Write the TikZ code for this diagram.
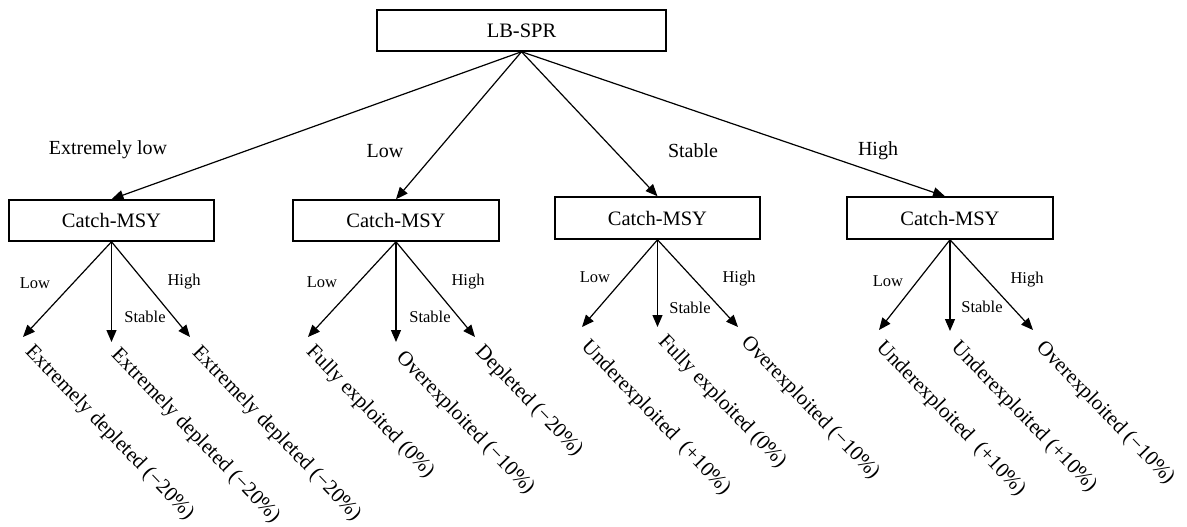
\documentclass[tikz,border=0pt]{standalone}
\usepackage{fontspec}
\setmainfont{Liberation Serif}
\usetikzlibrary{arrows.meta}
\begin{document}
\begin{tikzpicture}[x=1pt,y=-1pt,
  box/.style={draw, line width=1.5pt, minimum height=41pt, inner sep=0pt, font=\fontsize{20.5}{24}\selectfont},
  arr/.style={line width=1.2pt, -{Triangle[length=12pt,width=10pt]}},
  lab/.style={inner sep=0pt, font=\fontsize{20}{24}\selectfont},
  small/.style={inner sep=0pt, font=\fontsize{16.5}{20}\selectfont},
  leaf/.style={anchor=north west, rotate=-46, inner sep=0pt, font=\fontsize{21}{24}\selectfont}]
\useasboundingbox (0,0) rectangle (1187,527);

% boxes
\node[box, minimum width=289pt] (root) at (521.5,30.5) {LB-SPR};
\node[box, minimum width=205pt] (c1) at (111.5,220.5) {Catch-MSY};
\node[box, minimum width=206pt] (c2) at (396,220.5) {Catch-MSY};
\node[box, minimum width=205pt, minimum height=42pt] (c3) at (657.5,218) {Catch-MSY};
\node[box, minimum width=206pt, minimum height=42pt] (c4) at (950,218) {Catch-MSY};

% top labels
\node[lab] (t1) at (108,150) {Extremely low};
\node[lab] (t2) at (385,151) {Low};
\node[lab] (t3) at (693,151) {Stable};
\node[lab] (t4) at (878,151) {High};

% top arrows
\draw[arr] (root.south) -- (c1.north);
\draw[arr] (root.south) -- (c2.north);
\draw[arr] (root.south) -- (c3.north);
\draw[arr] (root.south) -- ([xshift=-5pt]c4.north);

% arrow tips
\coordinate (a1) at (23,337);  \coordinate (a2) at (112,342); \coordinate (a3) at (190,337);
\coordinate (b1) at (308,337); \coordinate (b2) at (397,342); \coordinate (b3) at (475,337);
\coordinate (d1) at (582,327); \coordinate (d2) at (659,327); \coordinate (d3) at (738,327);
\coordinate (e1) at (879,330); \coordinate (e2) at (950,331); \coordinate (e3) at (1033,330);

\foreach \b/\p in {c1/a, c2/b, c3/d, c4/e}{
  \draw[arr] (\b.south) -- (\p1);
  \draw[arr] (\b.south) -- (\b.south |- \p2);
  \draw[arr] (\b.south) -- (\p3);
}

% small labels
\node[small] (l1) at (35,283) {Low};
\node[small] (s1) at (145,317) {Stable};
\node[small] (h1) at (184,282) {High};
\node[small] (l2) at (322,282) {Low};
\node[small] (s2) at (430,317) {Stable};
\node[small] (h2) at (468,282) {High};
\node[small] (l3) at (595,277) {Low};
\node[small] (s3) at (690,308) {Stable};
\node[small] (h3) at (739,279) {High};
\node[small] (l4) at (888,281) {Low};
\node[small] (s4) at (982,307) {Stable};
\node[small] (h4) at (1027,280) {High};

% leaves
\node[leaf] (f1) at (35,342) {Extremely depleted (−20\%)};
\node[leaf] (f2) at (121,345) {Extremely depleted (−20\%)};
\node[leaf] (f3) at (202,343) {Extremely depleted (−20\%)};
\node[leaf] (f4) at (316,342) {Fully exploited (0\%)};
\node[leaf] (f5) at (406,348) {Overexploited (−10\%)};
\node[leaf] (f6) at (485,342) {Depleted (−20\%)};
\node[leaf] (f7) at (591,337) {Underexploited\ \ (+10\%)};
\node[leaf] (f8) at (668,332) {Fully exploited (0\%)};
\node[leaf] (f9) at (751,333) {Overexploited (−10\%)};
\node[leaf] (f10) at (886,338) {Underexploited\ \ (+10\%)};
\node[leaf] (f11) at (961,338) {Underexploited (+10\%)};
\node[leaf] (f12) at (1046,338) {Overexploited (−10\%)};
\end{tikzpicture}
\end{document}
